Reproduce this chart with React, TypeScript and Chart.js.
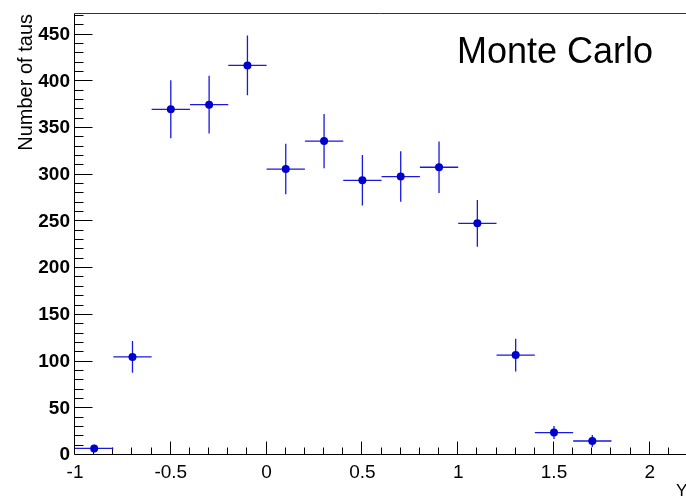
import React, { useEffect, useRef } from 'react';
import { Chart, registerables } from 'chart.js';

Chart.register(...registerables);

// ---- data ----
const binCenters = [-0.9, -0.7, -0.5, -0.3, -0.1, 0.1, 0.3, 0.5, 0.7, 0.9, 1.1, 1.3, 1.5, 1.7];
const counts = [7, 105, 370, 375, 417, 306, 336, 294, 298, 308, 248, 107, 24, 15];
const countErrors = [4, 17, 31, 31, 32, 27, 29, 27, 27, 27.5, 25, 17.5, 7, 6.5];
const binHalfWidth = 0.1;
const xTickValues = [-1, -0.5, 0, 0.5, 1, 1.5, 2];
const xTickLabels = ['-1', '-0.5', '0', '0.5', '1', '1.5', '2'];
const yTickValues = [0, 50, 100, 150, 200, 250, 300, 350, 400, 450];
const yTickLabels = ['0', '50', '100', '150', '200', '250', '300', '350', '400', '450'];
const plotLabel = 'Monte Carlo';
const yTitle = 'Number of taus';
const xTitle = 'Y';

const FONT = '"Liberation Sans", Arial, Helvetica, sans-serif';
const MARKER = 'rgb(0,0,205)';
const ERRCOL = 'rgb(25,25,225)';

const rootStyle = {
  id: 'rootStyle',
  beforeDatasetsDraw(chart: any) {
    const { ctx, chartArea: ca, scales } = chart;
    const x = scales.x;
    const y = scales.y;
    const W = chart.width;
    ctx.save();
    ctx.lineWidth = 1;
    // frame
    const L = Math.round(ca.left) - 0.5;
    const B = Math.round(ca.bottom) - 0.5;
    const T = Math.round(ca.top) - 0.5;
    ctx.strokeStyle = '#000';
    ctx.beginPath();
    ctx.moveTo(L, B);
    ctx.lineTo(W, B);
    ctx.moveTo(L, B);
    ctx.lineTo(L, T);
    ctx.stroke();
    ctx.strokeStyle = '#333';
    ctx.beginPath();
    ctx.moveTo(L, T);
    ctx.lineTo(W, T);
    ctx.stroke();
    // y ticks
    ctx.strokeStyle = '#000';
    ctx.beginPath();
    for (let i = 1; i <= 47; i++) {
      const v = i * 10;
      const py = Math.round(y.getPixelForValue(v)) - 0.5;
      const len = i % 5 === 0 ? 18 : 9;
      ctx.moveTo(L, py);
      ctx.lineTo(L + len, py);
    }
    // x ticks
    for (let i = -9; i <= 21; i++) {
      const v = i / 10;
      const px = Math.round(x.getPixelForValue(v)) - 0.5;
      const len = i % 5 === 0 ? 13 : 7;
      ctx.moveTo(px, B);
      ctx.lineTo(px, B - len);
    }
    ctx.stroke();
    // error bars
    ctx.strokeStyle = ERRCOL;
    ctx.lineWidth = 1.3;
    ctx.beginPath();
    for (let i = 0; i < binCenters.length; i++) {
      const c = binCenters[i];
      const v = counts[i];
      const e = countErrors[i];
      const px = x.getPixelForValue(c);
      const py = y.getPixelForValue(v);
      ctx.moveTo(x.getPixelForValue(c - binHalfWidth), py);
      ctx.lineTo(x.getPixelForValue(c + binHalfWidth), py);
      ctx.moveTo(px, Math.min(y.getPixelForValue(Math.max(v - e, 0)), ca.bottom));
      ctx.lineTo(px, y.getPixelForValue(v + e));
    }
    ctx.stroke();
    ctx.restore();
  },
  afterDraw(chart: any) {
    const { ctx } = chart;
    ctx.save();
    ctx.fillStyle = '#000';
    ctx.textAlign = 'left';
    ctx.textBaseline = 'alphabetic';
    ctx.font = `36px ${FONT}`;
    ctx.fillText(plotLabel, 457, 63);
    ctx.font = `17px ${FONT}`;
    ctx.fillText(xTitle, 676, 496);
    ctx.restore();
  },
};

export default function App() {
  const ref = useRef<HTMLCanvasElement | null>(null);
  useEffect(() => {
    if (!ref.current) return;
    const chart = new Chart(ref.current, {
      type: 'scatter',
      data: {
        datasets: [
          {
            data: binCenters.map((c, i) => ({ x: c, y: counts[i] })),
            pointRadius: 4,
            pointHoverRadius: 4,
            pointBackgroundColor: MARKER,
            pointBorderColor: MARKER,
            pointBorderWidth: 0,
            showLine: false,
          },
        ],
      },
      plugins: [rootStyle],
      options: {
        responsive: false,
        animation: false,
        events: [],
        layout: { autoPadding: false, padding: { left: 0, top: 14, right: 0, bottom: 0 } },
        plugins: { legend: { display: false }, tooltip: { enabled: false } },
        scales: {
          x: {
            type: 'linear',
            min: -1,
            max: 2.189,
            grid: { display: false, drawTicks: false },
            border: { display: false },
            afterBuildTicks: (s: any) => {
              s.ticks = xTickValues.map((v) => ({ value: v }));
            },
            afterFit: (s: any) => {
              s.height = 42;
              s.paddingLeft = 0;
              s.paddingRight = 0;
            },
            ticks: {
              autoSkip: false,
              maxRotation: 0,
              padding: 6,
              color: '#000',
              font: { family: FONT, size: 19 },
              callback: (_v: any, i: number) => xTickLabels[i],
            },
          },
          y: {
            type: 'linear',
            min: 0,
            max: 472,
            grid: { display: false, drawTicks: false },
            border: { display: false },
            afterBuildTicks: (s: any) => {
              s.ticks = yTickValues.map((v) => ({ value: v }));
            },
            afterFit: (s: any) => {
              s.width = 75;
              s.paddingTop = 0;
              s.paddingBottom = 0;
            },
            title: {
              display: true,
              text: yTitle,
              align: 'end',
              color: '#000',
              font: { family: FONT, size: 20 },
              padding: { top: 14, bottom: 0 },
            },
            ticks: {
              padding: 5,
              color: '#000',
              font: { family: FONT, size: 19, weight: 'bold' },
              callback: (_v: any, i: number) => yTickLabels[i],
            },
          },
        },
      },
    } as any);
    return () => chart.destroy();
  }, []);
  return (
    <div style={{ position: 'fixed', left: 0, top: 0, width: 686, height: 497, background: '#fff' }}>
      <canvas ref={ref} width={686} height={497} style={{ display: 'block' }} />
    </div>
  );
}
